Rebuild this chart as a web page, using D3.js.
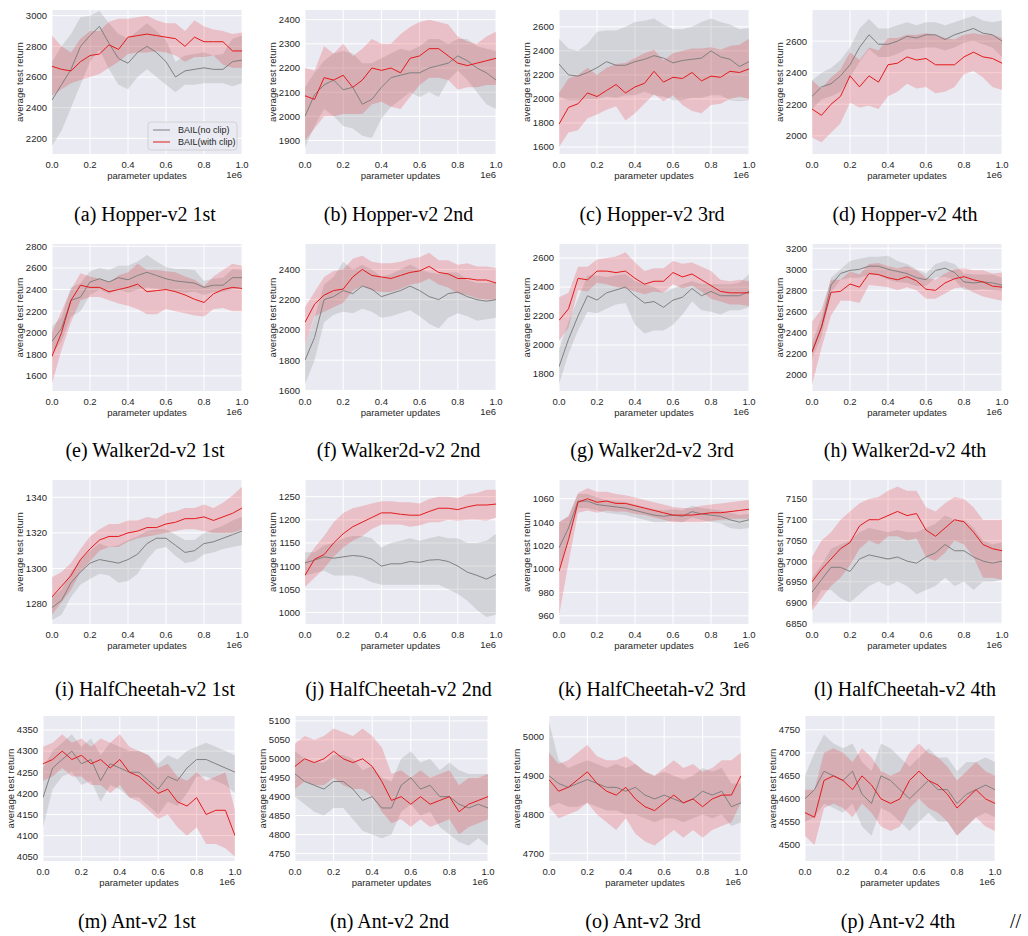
<!DOCTYPE html>
<html>
<head>
<meta charset="utf-8">
<script src="https://cdn.jsdelivr.net/npm/d3@7"></script>
<style>
  body { margin: 0; background: #fff; }
  text { font-family: "Liberation Sans", Arial, sans-serif; fill: #262626; }
  .caption { font-family: "Liberation Serif", "Times New Roman", serif; font-size: 20px; fill: #000; }
</style>
</head>
<body>
<svg id="fig" width="1028" height="936"></svg>
<script>
// sampling grid along parameter updates (x 1e6)
const xGrid = [0,0.05,0.1,0.15,0.2,0.25,0.3,0.35,0.4,0.45,0.5,0.55,0.6,0.65,0.7,0.75,0.8,0.85,0.9,0.95,1.0];

// ---- Hopper-v2 ----
const hop1Gray   = [2450,2550,2650,2800,2870,2930,2820,2720,2690,2760,2800,2760,2700,2600,2640,2650,2660,2650,2650,2700,2710];
const hop1GrayLo = [2150,2250,2400,2550,2700,2780,2650,2550,2520,2600,2650,2600,2550,2500,2550,2550,2560,2560,2560,2540,2560];
const hop1GrayHi = [2700,2800,2880,2990,3000,3030,2950,2880,2850,2900,2950,2900,2840,2700,2740,2750,2760,2740,2750,2850,2870];
const hop1Red    = [2670,2650,2640,2700,2740,2750,2810,2780,2860,2870,2880,2870,2860,2850,2800,2860,2830,2830,2830,2770,2770];
const hop1RedLo  = [2480,2520,2560,2580,2600,2620,2660,2700,2750,2760,2760,2770,2760,2740,2700,2730,2730,2740,2680,2660,2660];
const hop1RedHi  = [2870,2800,2760,2850,2900,2900,2960,2980,2980,2990,3000,2970,2950,2950,2900,2970,2930,2910,2900,2880,2890];

const hop2Gray   = [2000,2090,2130,2150,2110,2120,2050,2070,2120,2160,2170,2180,2180,2200,2210,2220,2250,2230,2200,2180,2150];
const hop2GrayLo = [1870,1960,2030,2000,1960,1950,1920,1910,1990,2040,2070,2100,2080,2100,2080,2150,2190,2150,2100,2050,2030];
const hop2GrayHi = [2120,2180,2230,2260,2270,2260,2220,2220,2240,2260,2280,2270,2290,2320,2320,2300,2320,2320,2290,2280,2270];
const hop2Red    = [2085,2070,2160,2150,2170,2120,2150,2200,2190,2200,2180,2240,2250,2280,2280,2250,2220,2210,2220,2230,2240];
const hop2RedLo  = [1900,1950,2000,2000,2010,2010,2010,2050,2060,2040,2030,2080,2130,2160,2160,2150,2110,2120,2120,2130,2130];
const hop2RedHi  = [2200,2190,2290,2260,2300,2250,2280,2320,2300,2300,2340,2370,2390,2400,2390,2380,2330,2310,2300,2330,2350];

const hop3Gray   = [2290,2200,2190,2220,2260,2310,2280,2280,2310,2330,2360,2340,2300,2320,2330,2340,2400,2350,2330,2270,2310];
const hop3GrayLo = [2020,1990,1990,2000,2000,2020,2010,2030,2030,2060,2030,2020,1990,1990,2010,2010,2030,2030,1990,1980,1990];
const hop3GrayHi = [2500,2420,2400,2460,2560,2570,2570,2600,2640,2650,2670,2620,2580,2580,2600,2640,2670,2640,2620,2580,2590];
const hop3Red    = [1790,1930,1960,2050,2020,2070,2120,2050,2100,2130,2230,2140,2180,2170,2220,2150,2190,2180,2230,2220,2250];
const hop3RedLo  = [1600,1720,1740,1840,1870,1910,1940,1820,1880,1960,2040,1980,2030,1950,1900,1880,1950,1960,2000,2020,2000];
const hop3RedHi  = [2050,2170,2200,2260,2200,2260,2290,2300,2340,2380,2410,2320,2380,2400,2420,2420,2430,2410,2440,2450,2500];

const hop4Gray   = [2250,2310,2330,2380,2450,2560,2640,2580,2580,2600,2630,2620,2640,2640,2610,2640,2660,2680,2650,2640,2600];
const hop4GrayLo = [2170,2230,2250,2280,2370,2470,2550,2500,2500,2520,2550,2550,2560,2560,2540,2560,2590,2600,2580,2560,2500];
const hop4GrayHi = [2350,2400,2430,2480,2560,2680,2740,2680,2680,2700,2720,2700,2720,2720,2700,2720,2740,2760,2730,2720,2730];
const hop4Red    = [2170,2130,2200,2250,2380,2310,2380,2340,2450,2460,2500,2480,2490,2450,2450,2450,2500,2530,2500,2490,2460];
const hop4RedLo  = [1990,1960,2020,2080,2210,2180,2190,2170,2250,2280,2330,2300,2310,2270,2280,2310,2390,2410,2370,2310,2290];
const hop4RedHi  = [2350,2300,2370,2420,2530,2480,2560,2540,2620,2620,2640,2640,2650,2640,2620,2610,2640,2650,2640,2640,2620];

// ---- Walker2d-v2 ----
const wal1Gray   = [1920,2040,2300,2330,2470,2500,2470,2510,2490,2530,2560,2530,2500,2480,2470,2460,2420,2440,2440,2510,2510];
const wal1GrayLo = [1800,1920,2150,2200,2350,2400,2360,2400,2370,2400,2420,2410,2400,2380,2370,2380,2350,2380,2380,2400,2420];
const wal1GrayHi = [2060,2140,2420,2460,2570,2600,2580,2620,2620,2660,2720,2660,2610,2590,2590,2580,2480,2500,2510,2590,2580];
const wal1Red    = [1780,2000,2300,2440,2420,2420,2380,2400,2420,2450,2380,2390,2400,2380,2350,2310,2280,2360,2400,2420,2410];
const wal1RedLo  = [1530,1840,2100,2300,2330,2330,2300,2270,2250,2220,2170,2170,2220,2200,2180,2160,2150,2220,2230,2200,2200];
const wal1RedHi  = [2000,2200,2400,2550,2520,2500,2470,2530,2560,2640,2580,2580,2570,2560,2520,2490,2430,2520,2580,2640,2620];

const wal2Gray   = [1800,1950,2200,2220,2260,2240,2290,2270,2220,2240,2260,2290,2260,2220,2200,2240,2250,2220,2200,2190,2200];
const wal2GrayLo = [1640,1800,2050,2100,2120,2110,2140,2120,2080,2090,2110,2130,2090,2040,2010,2080,2110,2090,2060,2070,2080];
const wal2GrayHi = [1900,2080,2300,2350,2450,2400,2430,2400,2350,2370,2400,2430,2400,2380,2370,2380,2380,2330,2310,2310,2310];
const wal2Red    = [2050,2170,2230,2260,2270,2350,2400,2360,2350,2340,2360,2380,2390,2420,2380,2370,2340,2340,2330,2330,2310];
const wal2RedLo  = [1900,2090,2120,2150,2180,2260,2290,2260,2250,2250,2270,2300,2310,2340,2300,2280,2240,2230,2210,2200,2200];
const wal2RedHi  = [2150,2250,2350,2390,2400,2470,2490,2450,2440,2440,2450,2470,2480,2510,2460,2460,2430,2440,2420,2420,2410];

const wal3Gray   = [1850,2040,2200,2340,2310,2360,2380,2400,2340,2290,2300,2260,2310,2330,2390,2340,2370,2340,2340,2340,2370];
const wal3GrayLo = [1730,1940,2100,2230,2220,2250,2280,2290,2140,2080,2100,2100,2140,2210,2300,2240,2230,2210,2240,2240,2260];
const wal3GrayHi = [1970,2160,2320,2480,2480,2470,2480,2490,2440,2420,2400,2360,2390,2420,2440,2420,2420,2420,2420,2430,2490];
const wal3Red    = [2170,2250,2460,2450,2510,2510,2500,2510,2460,2420,2440,2440,2500,2470,2490,2450,2410,2370,2360,2360,2360];
const wal3RedLo  = [2030,2120,2380,2370,2430,2420,2400,2390,2370,2350,2370,2360,2420,2390,2410,2370,2320,2300,2280,2280,2270];
const wal3RedHi  = [2330,2360,2540,2540,2590,2600,2610,2640,2570,2510,2530,2530,2580,2560,2570,2540,2510,2450,2440,2450,2440];

const wal4Gray   = [2220,2450,2850,2960,2990,3000,3030,3030,3000,2980,2960,2920,2900,2990,3010,2970,2880,2870,2880,2870,2850];
const wal4GrayLo = [2150,2360,2780,2900,2920,2920,2950,2940,2900,2880,2870,2840,2840,2920,2930,2900,2800,2800,2810,2800,2790];
const wal4GrayHi = [2300,2540,2920,3000,3080,3100,3120,3120,3130,3080,3050,3000,2960,3050,3080,3050,2960,2950,2950,2950,2920];
const wal4Red    = [2210,2450,2780,2790,2860,2830,2960,2950,2920,2900,2930,2890,2810,2800,2870,2910,2930,2900,2880,2840,2830];
const wal4RedLo  = [1900,2250,2560,2700,2700,2680,2850,2840,2830,2800,2830,2800,2720,2720,2770,2820,2830,2780,2740,2720,2700];
const wal4RedHi  = [2500,2620,2900,2900,2980,2950,3050,3060,3030,3010,3030,2990,2920,2900,2960,3000,3010,2990,2990,2960,2970];

// ---- HalfCheetah-v2 ----
const hc1Gray   = [1278,1282,1292,1298,1303,1305,1304,1303,1305,1308,1314,1317,1317,1313,1309,1310,1314,1315,1317,1319,1321];
const hc1GrayLo = [1271,1274,1284,1291,1294,1297,1296,1292,1293,1297,1305,1311,1312,1307,1303,1304,1308,1309,1311,1312,1313];
const hc1GrayHi = [1284,1288,1298,1305,1310,1314,1312,1313,1316,1318,1321,1322,1322,1319,1316,1316,1320,1322,1324,1327,1329];
const hc1Red    = [1284,1290,1296,1305,1311,1316,1318,1318,1320,1321,1323,1323,1325,1326,1328,1328,1329,1327,1329,1331,1334];
const hc1RedLo  = [1274,1281,1288,1298,1304,1310,1312,1312,1315,1317,1318,1319,1320,1321,1322,1322,1321,1320,1320,1320,1322];
const hc1RedHi  = [1295,1298,1303,1311,1318,1322,1325,1325,1327,1327,1329,1328,1331,1332,1334,1334,1336,1334,1337,1341,1346];

const hc2Gray   = [1107,1113,1120,1117,1120,1123,1121,1115,1100,1105,1105,1110,1108,1113,1114,1110,1100,1087,1080,1072,1082];
const hc2GrayLo = [1080,1085,1090,1080,1080,1080,1075,1065,1060,1060,1060,1060,1060,1060,1060,1050,1040,1025,1005,990,995];
const hc2GrayHi = [1130,1130,1145,1150,1160,1165,1165,1160,1140,1150,1155,1160,1155,1160,1165,1160,1160,1150,1150,1155,1170];
const hc2Red    = [1080,1115,1125,1150,1170,1185,1195,1205,1215,1215,1212,1210,1210,1218,1225,1225,1222,1228,1232,1232,1234];
const hc2RedLo  = [1055,1075,1095,1120,1140,1155,1165,1180,1190,1190,1190,1185,1188,1195,1195,1200,1198,1200,1200,1198,1205];
const hc2RedHi  = [1110,1140,1165,1195,1215,1225,1230,1235,1240,1240,1238,1238,1235,1245,1250,1250,1247,1255,1258,1265,1265];

const hc3Gray   = [1018,1035,1058,1058,1055,1054,1053,1052,1050,1048,1046,1045,1046,1045,1049,1047,1046,1045,1042,1040,1042];
const hc3GrayLo = [1000,1025,1052,1052,1050,1048,1047,1046,1044,1042,1040,1040,1041,1040,1044,1042,1040,1039,1035,1034,1035];
const hc3GrayHi = [1040,1045,1064,1064,1061,1059,1058,1057,1055,1053,1051,1050,1051,1050,1054,1052,1051,1050,1048,1046,1047];
const hc3Red    = [998,1025,1057,1060,1057,1058,1056,1056,1054,1052,1050,1048,1046,1046,1046,1047,1048,1048,1049,1050,1051];
const hc3RedLo  = [960,1005,1048,1050,1048,1050,1049,1049,1047,1046,1044,1042,1040,1040,1040,1040,1041,1042,1043,1043,1043];
const hc3RedHi  = [1040,1045,1065,1069,1066,1066,1064,1063,1061,1059,1057,1055,1053,1052,1052,1054,1055,1056,1057,1058,1059];

const hc4Gray   = [6925,6955,6985,6985,6975,7005,7015,7010,7005,7010,7000,6995,7010,7020,7040,7025,7025,7010,7000,6995,7000];
const hc4GrayLo = [6890,6930,6930,6910,6900,6920,6940,6950,6940,6950,6940,6920,6930,6940,6960,6940,6950,6930,6950,6950,6955];
const hc4GrayHi = [6960,6990,7030,7040,7050,7070,7080,7075,7070,7075,7070,7070,7080,7090,7110,7100,7100,7080,7050,7040,7045];
const hc4Red    = [6950,6980,7005,7030,7045,7085,7100,7100,7110,7120,7110,7115,7075,7060,7080,7100,7095,7070,7040,7030,7025];
const hc4RedLo  = [6880,6910,6940,6960,6990,7030,7050,7040,7060,7060,7050,7055,7010,7000,7020,7050,7040,7010,6960,6960,6955];
const hc4RedHi  = [7010,7050,7070,7100,7120,7140,7150,7155,7170,7180,7170,7170,7130,7120,7140,7155,7150,7130,7100,7100,7100];

// ---- Ant-v2 ----
const ant1Gray   = [4190,4260,4280,4300,4270,4280,4230,4270,4260,4250,4250,4230,4210,4240,4230,4260,4280,4280,4270,4260,4250];
const ant1GrayLo = [4120,4210,4240,4250,4220,4230,4180,4220,4210,4190,4190,4170,4150,4180,4170,4200,4240,4240,4230,4220,4200];
const ant1GrayHi = [4260,4300,4320,4340,4310,4330,4290,4320,4310,4300,4300,4290,4270,4290,4280,4300,4310,4320,4310,4300,4290];
const ant1Red    = [4270,4280,4300,4280,4290,4270,4280,4260,4280,4250,4240,4220,4200,4210,4180,4170,4190,4150,4160,4160,4100];
const ant1RedLo  = [4230,4240,4260,4240,4240,4220,4220,4200,4220,4190,4180,4160,4140,4150,4120,4100,4120,4080,4080,4070,4050];
const ant1RedHi  = [4310,4320,4340,4320,4330,4310,4330,4320,4340,4310,4300,4290,4260,4270,4240,4230,4250,4230,4240,4250,4160];

const ant2Gray   = [4960,4940,4930,4920,4940,4940,4920,4890,4900,4870,4870,4930,4950,4920,4930,4900,4900,4880,4870,4880,4870];
const ant2GrayLo = [4900,4880,4860,4850,4870,4870,4840,4810,4800,4790,4800,4860,4880,4850,4860,4820,4800,4780,4770,4790,4770];
const ant2GrayHi = [5020,5000,4990,4990,5010,5010,5000,4970,4980,4950,4940,5000,5020,4990,5000,4970,4990,4970,4960,4960,4960];
const ant2Red    = [4980,5000,4990,5000,5020,5000,4990,5000,4980,4940,4890,4900,4880,4900,4880,4890,4900,4860,4880,4890,4900];
const ant2RedLo  = [4920,4940,4930,4930,4950,4930,4920,4920,4900,4860,4830,4840,4820,4840,4820,4830,4840,4800,4820,4830,4840];
const ant2RedHi  = [5040,5060,5050,5060,5080,5070,5060,5080,5060,5030,4960,4970,4950,4970,4950,4960,4970,4930,4950,4950,4960];

const ant3Gray   = [4900,4880,4870,4880,4890,4880,4870,4870,4860,4870,4850,4840,4850,4840,4830,4840,4860,4850,4860,4820,4830];
const ant3GrayLo = [4820,4830,4820,4820,4830,4820,4810,4810,4800,4800,4790,4780,4790,4790,4780,4790,4800,4790,4800,4770,4780];
const ant3GrayHi = [5040,4940,4920,4930,4940,4930,4920,4930,4920,4930,4910,4900,4910,4900,4890,4900,4920,4910,4920,4880,4880];
const ant3Red    = [4890,4860,4870,4890,4910,4880,4860,4850,4870,4840,4820,4810,4830,4850,4830,4840,4820,4840,4850,4850,4900];
const ant3RedLo  = [4820,4790,4800,4810,4830,4800,4780,4760,4790,4750,4730,4720,4740,4760,4740,4760,4740,4760,4770,4780,4830];
const ant3RedHi  = [4960,4930,4940,4960,4980,4950,4940,4940,4950,4930,4910,4900,4920,4940,4920,4930,4910,4920,4940,4940,4960];

const ant4Gray   = [4600,4620,4660,4650,4640,4660,4610,4590,4650,4640,4620,4600,4620,4640,4620,4620,4590,4610,4620,4630,4620];
const ant4GrayLo = [4550,4560,4590,4580,4570,4590,4540,4520,4580,4570,4550,4530,4550,4570,4550,4550,4520,4540,4560,4570,4560];
const ant4GrayHi = [4650,4700,4740,4720,4710,4720,4680,4660,4720,4710,4690,4670,4690,4710,4690,4690,4660,4680,4680,4690,4680];
const ant4Red    = [4570,4560,4640,4650,4640,4620,4650,4630,4600,4590,4600,4640,4660,4640,4630,4610,4580,4600,4620,4600,4590];
const ant4RedLo  = [4520,4500,4580,4590,4580,4560,4590,4570,4540,4530,4540,4580,4600,4580,4570,4550,4520,4540,4560,4540,4530];
const ant4RedHi  = [4620,4620,4700,4710,4700,4680,4710,4690,4660,4650,4660,4700,4720,4700,4690,4670,4640,4660,4680,4660,4650];

// y-axis ranges and tick labels per panel
const yDomains = [
  [2098,3037],[1844,2440],[1542,2740],[1885,2797],
  [1460,2822],[1596,2568],[1683,2697],[1841,3241],
  [1268.75,1349.75],[975,1286],[953,1076],[6848,7196],
  [4040,4383],[4730,5113],[4680,5054],[4465,4780]
];
const yTicks = [
  [2200,2400,2600,2800,3000],[1900,2000,2100,2200,2300,2400],[1600,1800,2000,2200,2400,2600],[2000,2200,2400,2600],
  [1600,1800,2000,2200,2400,2600,2800],[1600,1800,2000,2200,2400],[1800,2000,2200,2400,2600],[2000,2200,2400,2600,2800,3000,3200],
  [1280,1300,1320,1340],[1000,1050,1100,1150,1200,1250],[960,980,1000,1020,1040,1060],[6850,6900,6950,7000,7050,7100,7150],
  [4050,4100,4150,4200,4250,4300,4350],[4750,4800,4850,4900,4950,5000,5050,5100],[4700,4800,4900,5000],[4500,4550,4600,4650,4700,4750]
];
const xTicks = [0,0.2,0.4,0.6,0.8,1.0];
const captions = [
  "(a) Hopper-v2 1st","(b) Hopper-v2 2nd","(c) Hopper-v2 3rd","(d) Hopper-v2 4th",
  "(e) Walker2d-v2 1st","(f) Walker2d-v2 2nd","(g) Walker2d-v2 3rd","(h) Walker2d-v2 4th",
  "(i) HalfCheetah-v2 1st","(j) HalfCheetah-v2 2nd","(k) HalfCheetah-v2 3rd","(l) HalfCheetah-v2 4th",
  "(m) Ant-v2 1st","(n) Ant-v2 2nd","(o) Ant-v2 3rd","(p) Ant-v2 4th"
];
const seriesNames = ["BAIL(no clip)","BAIL(with clip)"];

const series = [
  [hop1Gray,hop1GrayLo,hop1GrayHi,hop1Red,hop1RedLo,hop1RedHi],
  [hop2Gray,hop2GrayLo,hop2GrayHi,hop2Red,hop2RedLo,hop2RedHi],
  [hop3Gray,hop3GrayLo,hop3GrayHi,hop3Red,hop3RedLo,hop3RedHi],
  [hop4Gray,hop4GrayLo,hop4GrayHi,hop4Red,hop4RedLo,hop4RedHi],
  [wal1Gray,wal1GrayLo,wal1GrayHi,wal1Red,wal1RedLo,wal1RedHi],
  [wal2Gray,wal2GrayLo,wal2GrayHi,wal2Red,wal2RedLo,wal2RedHi],
  [wal3Gray,wal3GrayLo,wal3GrayHi,wal3Red,wal3RedLo,wal3RedHi],
  [wal4Gray,wal4GrayLo,wal4GrayHi,wal4Red,wal4RedLo,wal4RedHi],
  [hc1Gray,hc1GrayLo,hc1GrayHi,hc1Red,hc1RedLo,hc1RedHi],
  [hc2Gray,hc2GrayLo,hc2GrayHi,hc2Red,hc2RedLo,hc2RedHi],
  [hc3Gray,hc3GrayLo,hc3GrayHi,hc3Red,hc3RedLo,hc3RedHi],
  [hc4Gray,hc4GrayLo,hc4GrayHi,hc4Red,hc4RedLo,hc4RedHi],
  [ant1Gray,ant1GrayLo,ant1GrayHi,ant1Red,ant1RedLo,ant1RedHi],
  [ant2Gray,ant2GrayLo,ant2GrayHi,ant2Red,ant2RedLo,ant2RedHi],
  [ant3Gray,ant3GrayLo,ant3GrayHi,ant3Red,ant3RedLo,ant3RedHi],
  [ant4Gray,ant4GrayLo,ant4GrayHi,ant4Red,ant4RedLo,ant4RedHi]
];

// layout of the 4x4 grid
const rowBox = [
  {top:10,  bottom:154, cap:221},
  {top:244, bottom:391, cap:457},
  {top:480, bottom:624, cap:696},
  {top:716, bottom:861, cap:928}
];
const colBox = [[52,242],[305,496],[559,749],[812,1002]];
const colBoxLast = [[43,235],[295,488],[549,741],[805,995]];

const grayCol = "#808080";
const redCol = "#e41a1c";
const bg = "#eaeaf2";

const svg = d3.select("#fig");

series.forEach(function(s, i) {
    const r = Math.floor(i/4), c = i%4;
    const rb = rowBox[r];
    const cb = (r==3 ? colBoxLast : colBox)[c];
    const x = d3.scaleLinear().domain([0,1]).range(cb);
    const y = d3.scaleLinear().domain(yDomains[i]).range([rb.bottom, rb.top]);
    const g = svg.append("g");

    //background
    g.append("rect")
	.attr("x", cb[0]).attr("y", rb.top)
	.attr("width", cb[1]-cb[0]).attr("height", rb.bottom-rb.top)
	.attr("fill", bg);
    //grid
    g.selectAll(".gx").data(xTicks).enter().append("line")
	.attr("x1", d => x(d)).attr("x2", d => x(d))
	.attr("y1", rb.top).attr("y2", rb.bottom)
	.attr("stroke", "#fff").attr("stroke-width", 1);
    g.selectAll(".gy").data(yTicks[i]).enter().append("line")
	.attr("x1", cb[0]).attr("x2", cb[1])
	.attr("y1", d => y(d)).attr("y2", d => y(d))
	.attr("stroke", "#fff").attr("stroke-width", 1);

    const clipId = "clip"+i;
    g.append("clipPath").attr("id", clipId).append("rect")
	.attr("x", cb[0]).attr("y", rb.top)
	.attr("width", cb[1]-cb[0]).attr("height", rb.bottom-rb.top);
    const plot = g.append("g").attr("clip-path", "url(#"+clipId+")");

    const area = (lo, hi) => d3.area()
	  .x((d, j) => x(xGrid[j]))
	  .y0((d, j) => y(lo[j]))
	  .y1((d, j) => y(hi[j]))(xGrid);
    const line = vals => d3.line()
	  .x((d, j) => x(xGrid[j]))
	  .y(d => y(d))(vals);

    plot.append("path").attr("d", area(s[1], s[2])).attr("fill", grayCol).attr("fill-opacity", 0.22);
    plot.append("path").attr("d", area(s[4], s[5])).attr("fill", redCol).attr("fill-opacity", 0.2);
    plot.append("path").attr("d", line(s[0])).attr("fill", "none").attr("stroke", grayCol).attr("stroke-width", 1);
    plot.append("path").attr("d", line(s[3])).attr("fill", "none").attr("stroke", redCol).attr("stroke-width", 1);

    //x tick labels
    g.selectAll(".xt").data(xTicks).enter().append("text")
	.attr("x", d => x(d)).attr("y", rb.bottom+14)
	.attr("text-anchor", "middle").attr("font-size", "9.5px")
	.text(d => d.toFixed(1));
    //y tick labels
    g.selectAll(".yt").data(yTicks[i]).enter().append("text")
	.attr("x", cb[0]-5).attr("y", d => y(d)+3.4)
	.attr("text-anchor", "end").attr("font-size", "9.5px")
	.text(d => d);
    //axis titles
    g.append("text")
	.attr("x", (cb[0]+cb[1])/2).attr("y", rb.bottom+25)
	.attr("text-anchor", "middle").attr("font-size", "9.5px")
	.text("parameter updates");
    g.append("text")
	.attr("x", cb[1]).attr("y", rb.bottom+24)
	.attr("text-anchor", "end").attr("font-size", "9.5px")
	.text("1e6");
    const ly = (rb.top+rb.bottom)/2;
    g.append("text")
	.attr("transform", "translate("+(cb[0]-29)+","+ly+") rotate(-90)")
	.attr("text-anchor", "middle").attr("font-size", "9.5px")
	.text("average test return");
    //caption
    g.append("text")
	.attr("class", "caption")
	.attr("x", (cb[0]+cb[1])/2 - 2).attr("y", rb.cap)
	.attr("text-anchor", "middle")
	.text(captions[i]);

    //legend only in first panel
    if (i == 0) {
	const lg = g.append("g").attr("transform", "translate(148,122)");
	lg.append("rect").attr("width", 89).attr("height", 28).attr("rx", 3)
	    .attr("fill", bg).attr("fill-opacity", 0.8)
	    .attr("stroke", "#cccccc").attr("stroke-width", 0.8);
	[grayCol, redCol].forEach(function(col, k) {
	    lg.append("line").attr("x1", 5).attr("x2", 22)
		.attr("y1", 8+k*12).attr("y2", 8+k*12)
		.attr("stroke", col).attr("stroke-width", 1);
	    lg.append("text").attr("x", 30).attr("y", 11+k*12)
		.attr("font-size", "9px").text(seriesNames[k]);
	});
    }
});

svg.append("text").attr("class", "caption")
    .attr("x", 1010).attr("y", 928).text("//");
</script>
</body>
</html>
